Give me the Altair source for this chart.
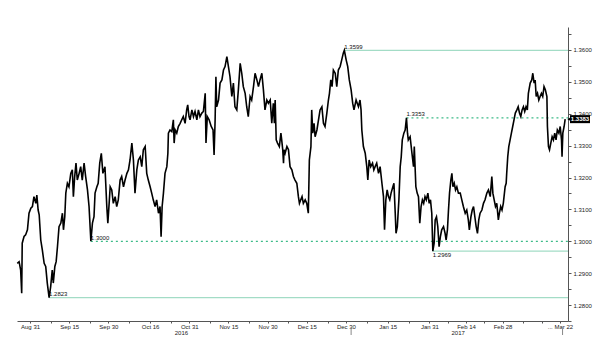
import json
import altair as alt
import pandas as pd

# ---- price series (USD/CAD style) ----
# day offsets from 2016-08-31, and the rate at that moment
day = [
    -4.9, -4.2, -3.6, -3.2, -3.0, -2.3, -1.7, -1.0, -0.4, 0.3, 0.9, 1.5, 2.2, 2.6, 3.1, 3.5, 4.1, 4.7, 5.4, 6.0,
    6.6, 7.3, 7.9, 8.5, 8.9, 9.5, 10.0, 10.5, 11.1, 11.8, 12.4, 12.8, 13.3, 13.7, 14.3, 14.9, 15.6, 16.2, 16.6, 17.1,
    17.6, 18.1, 18.8, 19.4, 20.0, 20.7, 21.3, 22.0, 22.6, 23.3, 23.9, 24.5, 24.9, 25.6, 26.1, 26.7, 27.3, 27.9, 28.7, 29.4,
    29.8, 30.3, 30.7, 31.3, 31.9, 32.6, 33.2, 33.8, 34.5, 35.1, 35.8, 36.4, 37.1, 37.7, 38.3, 39.0, 39.6, 40.2, 40.9, 41.5,
    42.2, 42.8, 43.4, 44.1, 44.7, 45.3, 46.0, 46.6, 47.2, 47.9, 48.5, 49.2, 49.8, 50.2, 50.6, 51.1, 51.7, 52.4, 52.8, 53.0,
    53.6, 54.3, 54.9, 55.2, 55.6, 56.2, 56.8, 57.5, 58.1, 58.7, 59.4, 60.0, 60.4, 60.9, 61.3, 62.0, 62.6, 63.2, 63.9, 64.5,
    65.1, 65.8, 66.4, 67.1, 67.4, 67.9, 68.6, 69.4, 70.1, 70.5, 70.9, 71.2, 71.5, 72.2, 72.8, 73.5, 74.1, 74.7, 75.4, 76.0,
    76.6, 77.3, 77.9, 78.5, 79.2, 79.8, 80.5, 81.1, 81.7, 82.4, 83.0, 83.6, 84.3, 84.9, 85.6, 86.2, 86.9, 87.5, 88.1, 88.8,
    89.4, 90.0, 90.7, 91.3, 92.0, 92.6, 93.2, 93.6, 93.9, 94.3, 94.8, 95.5, 96.1, 96.4, 96.8, 97.1, 97.3, 97.7, 98.4, 99.0,
    99.6, 100.3, 100.9, 101.5, 102.2, 102.8, 103.2, 103.7, 104.2, 104.7, 105.4, 106.0, 106.6, 107.0, 107.6, 107.9, 108.3, 108.8, 109.2, 109.9,
    110.5, 111.1, 111.8, 112.4, 113.0, 113.7, 114.3, 114.7, 115.2, 115.7, 116.2, 116.9, 117.5, 118.1, 118.8, 119.4, 120.0, 120.4, 121.1, 121.7,
    122.3, 123.0, 123.6, 124.1, 124.9, 125.8, 126.4, 126.8, 127.1, 127.7, 128.4, 129.0, 129.4, 129.9, 130.5, 131.2, 131.7, 132.2, 132.8, 133.5,
    134.1, 134.8, 135.4, 135.8, 136.3, 136.8, 137.3, 137.8, 138.3, 139.0, 139.4, 139.9, 140.2, 140.7, 141.3, 141.8, 142.2, 142.6, 143.2, 143.7,
    144.2, 144.6, 144.9, 145.6, 146.3, 146.9, 147.2, 147.8, 148.3, 148.8, 149.3, 149.8, 150.3, 150.8, 151.3, 151.8, 152.4, 152.9, 153.4, 153.9,
    154.3, 154.8, 155.2, 155.7, 156.2, 156.7, 157.2, 157.7, 158.4, 159.0, 159.4, 159.9, 160.3, 160.7, 161.2, 161.6, 162.0, 162.5, 163.0, 163.5,
    164.1, 164.8, 165.4, 166.0, 166.7, 167.3, 167.9, 168.3, 168.9, 169.4, 169.9, 170.4, 170.9, 171.4, 171.9, 172.4, 173.1, 173.7, 174.3, 175.0,
    175.6, 176.3, 176.9, 177.3, 177.8, 178.3, 178.8, 179.4, 179.8, 180.3, 180.8, 181.3, 182.0, 182.4, 182.6, 183.0, 183.4, 183.9, 184.4, 184.9,
    185.4, 185.9, 186.5, 187.0, 187.5, 188.0, 188.5, 189.0, 189.5, 190.0, 190.5, 190.9, 191.6, 192.2, 192.6, 193.1, 193.5, 193.9, 194.4, 194.9,
    195.4, 195.9, 196.4, 196.9, 197.4, 198.0, 198.2, 198.6, 199.0, 199.5, 200.0, 200.5, 201.0, 201.5, 202.0, 202.6, 203.1, 203.6, 203.8, 204.1,
    204.6, 205.0,
]
rate = [
    1.2931, 1.2936, 1.2910, 1.2837, 1.2994, 1.3015, 1.3020, 1.3036, 1.3088, 1.3104, 1.3109, 1.3140, 1.3119, 1.3145, 1.3098, 1.3083, 1.3004, 1.2973, 1.2931, 1.2921,
    1.2869, 1.2823, 1.2858, 1.2910, 1.2869, 1.2921, 1.2936, 1.2983, 1.3046, 1.3057, 1.3088, 1.3036, 1.3077, 1.3151, 1.3182, 1.3171, 1.3213, 1.3224, 1.3140, 1.3203,
    1.3245, 1.3192, 1.3213, 1.3234, 1.3192, 1.3245, 1.3203, 1.3161, 1.3109, 1.3000, 1.3057, 1.3077, 1.3151, 1.3171, 1.3182, 1.3245, 1.3276, 1.3213, 1.3234, 1.3109,
    1.3057, 1.3119, 1.3171, 1.3161, 1.3119, 1.3140, 1.3109, 1.3130, 1.3192, 1.3203, 1.3171, 1.3192, 1.3213, 1.3224, 1.3255, 1.3308, 1.3255, 1.3151, 1.3224, 1.3255,
    1.3265, 1.3234, 1.3287, 1.3297, 1.3213, 1.3192, 1.3171, 1.3151, 1.3130, 1.3109, 1.3130, 1.3088, 1.3109, 1.3014, 1.3109, 1.3151, 1.3213, 1.3234, 1.3276, 1.3339,
    1.3349, 1.3344, 1.3381, 1.3308, 1.3349, 1.3339, 1.3360, 1.3370, 1.3381, 1.3391, 1.3370, 1.3412, 1.3428, 1.3391, 1.3381, 1.3412, 1.3391, 1.3407, 1.3381, 1.3412,
    1.3391, 1.3402, 1.3407, 1.3464, 1.3308, 1.3391, 1.3381, 1.3360, 1.3349, 1.3271, 1.3381, 1.3516, 1.3422, 1.3443, 1.3496, 1.3506, 1.3537, 1.3548, 1.3579, 1.3548,
    1.3516, 1.3454, 1.3496, 1.3422, 1.3412, 1.3475, 1.3558, 1.3527, 1.3485, 1.3464, 1.3422, 1.3391, 1.3454, 1.3443, 1.3485, 1.3527, 1.3506, 1.3485, 1.3506, 1.3527,
    1.3475, 1.3412, 1.3443, 1.3433, 1.3443, 1.3370, 1.3433, 1.3370, 1.3443, 1.3318, 1.3308, 1.3297, 1.3339, 1.3318, 1.3287, 1.3245, 1.3287, 1.3276, 1.3297, 1.3287,
    1.3234, 1.3224, 1.3203, 1.3192, 1.3182, 1.3140, 1.3119, 1.3130, 1.3140, 1.3119, 1.3130, 1.3119, 1.3088, 1.3255, 1.3297, 1.3412, 1.3339, 1.3370, 1.3328, 1.3349,
    1.3381, 1.3412, 1.3422, 1.3370, 1.3360, 1.3402, 1.3443, 1.3464, 1.3506, 1.3485, 1.3537, 1.3527, 1.3485, 1.3537, 1.3548, 1.3569, 1.3590, 1.3599, 1.3569, 1.3548,
    1.3506, 1.3475, 1.3433, 1.3412, 1.3443, 1.3422, 1.3443, 1.3412, 1.3349, 1.3297, 1.3276, 1.3234, 1.3192, 1.3255, 1.3234, 1.3245, 1.3224, 1.3234, 1.3245, 1.3213,
    1.3234, 1.3182, 1.3140, 1.3036, 1.3130, 1.3161, 1.3140, 1.3130, 1.3151, 1.3171, 1.3182, 1.3088, 1.3025, 1.3046, 1.3130, 1.3234, 1.3265, 1.3318, 1.3339, 1.3349,
    1.3387, 1.3339, 1.3318, 1.3328, 1.3276, 1.3234, 1.3297, 1.3171, 1.3151, 1.3140, 1.3057, 1.3109, 1.3130, 1.3119, 1.3140, 1.3130, 1.3151, 1.3119, 1.3130, 1.3088,
    1.2969, 1.2994, 1.3067, 1.3077, 1.3046, 1.2983, 1.3015, 1.3036, 1.3046, 1.3025, 1.3004, 1.3036, 1.3098, 1.3151, 1.3192, 1.3213, 1.3171, 1.3182, 1.3161, 1.3171,
    1.3151, 1.3151, 1.3130, 1.3109, 1.3088, 1.3098, 1.3067, 1.3036, 1.3077, 1.3098, 1.3109, 1.3077, 1.3046, 1.3025, 1.3067, 1.3088, 1.3098, 1.3119, 1.3130, 1.3151,
    1.3161, 1.3140, 1.3203, 1.3151, 1.3130, 1.3109, 1.3119, 1.3067, 1.3088, 1.3109, 1.3098, 1.3119, 1.3171, 1.3182, 1.3213, 1.3265, 1.3297, 1.3318, 1.3339, 1.3360,
    1.3381, 1.3402, 1.3412, 1.3422, 1.3402, 1.3391, 1.3412, 1.3422, 1.3407, 1.3422, 1.3412, 1.3464, 1.3496, 1.3506, 1.3527, 1.3496, 1.3506, 1.3454, 1.3464, 1.3443,
    1.3454, 1.3464, 1.3454, 1.3485, 1.3475, 1.3454, 1.3360, 1.3297, 1.3287, 1.3308, 1.3328, 1.3318, 1.3339, 1.3318, 1.3349, 1.3339, 1.3360, 1.3318, 1.3265, 1.3339,
    1.3360, 1.3383,
]
assert len(day) == len(rate), (len(day), len(rate))

# ---- annotated levels ----
ref_level = [1.3599, 1.3387, 1.3000, 1.2969, 1.2823]
ref_start_day = [120.4, 144.2, 23.3, 154.3, 7.3]
ref_style = ["solid", "dashed", "dashed", "solid", "solid"]
ref_text = ["1.3599", "1.3353", "1.3000", "1.2969", "1.2823"]
ref_text_pos = ["above", "above", "above", "below", "above"]

# ---- axis ticks ----
x_label_dates = ["2016-08-31", "2016-09-15", "2016-09-30", "2016-10-16", "2016-10-31", "2016-11-15",
                 "2016-11-30", "2016-12-15", "2016-12-30", "2017-01-15", "2017-01-31", "2017-02-14",
                 "2017-02-28", "2017-03-22"]
x_minor_dates = ["2016-09-08", "2016-09-23", "2016-10-08", "2016-10-24", "2016-11-08", "2016-11-23",
                 "2016-12-08", "2016-12-23", "2017-01-07", "2017-01-23", "2017-02-07", "2017-02-21",
                 "2017-03-08", "2017-03-15"]
y_tick_values = [1.275, 1.28, 1.285, 1.29, 1.295, 1.30, 1.305, 1.31, 1.315, 1.32, 1.325,
                 1.33, 1.335, 1.34, 1.345, 1.35, 1.355, 1.36, 1.365]
year_labels = ["2016", "2017"]
year_mid_dates = ["2016-10-28", "2017-02-11"]
year_break_dates = ["2017-01-01", "2017-03-23"]

BASE = pd.Timestamp("2016-08-31")
END = "2017-03-25T02:00:00"

W, H = 551, 294
FONT = "Liberation Sans"


def dt(s):
    y, m, d = (int(p) for p in s.split("-"))
    return alt.DateTime(year=y, month=m, date=d)


series = pd.DataFrame({
    "t": (BASE + pd.to_timedelta(day, unit="D")).strftime("%Y-%m-%dT%H:%M:%S"),
    "rate": rate,
})
refs = pd.DataFrame({
    "level": ref_level,
    "start": (BASE + pd.to_timedelta(ref_start_day, unit="D")).strftime("%Y-%m-%dT%H:%M:%S"),
    "end": END,
    "style": ref_style,
    "text": ref_text,
    "pos": ref_text_pos,
})
years = pd.DataFrame({"t": [d + "T00:00:00" for d in year_mid_dates], "label": year_labels})
breaks = pd.DataFrame({"t": [d + "T00:00:00" for d in year_break_dates]})
last = pd.DataFrame({"rate": [rate[-1]], "text": [f"{rate[-1]:.4f}"]})

x_scale = alt.Scale(domain=[alt.DateTime(year=2016, month=8, date=26),
                            alt.DateTime(year=2017, month=3, date=25, hours=2)])
y_scale = alt.Scale(domain=[1.275, 1.3672], nice=False, zero=False)

label_expr = (
    "indexof(" + json.dumps(x_label_dates) + ", timeFormat(datum.value, '%Y-%m-%d')) >= 0 ? "
    "((month(datum.value) == 2 && date(datum.value) == 22) ? '... ' : '') + timeFormat(datum.value, '%b %d') : ''"
)
x_axis = alt.Axis(
    values=[dt(s) for s in sorted(x_label_dates + x_minor_dates)],
    labelExpr=label_expr, title=None, grid=False,
    domainColor="#555555", tickColor="#555555", tickSize=2,
    labelFontSize=6, labelFont=FONT, labelColor="#222222", labelPadding=0,
    labelOverlap=False, labelFlush=False, labelBound=False,
)
y_axis = alt.Axis(
    orient="right", values=y_tick_values,
    labelExpr="(round(datum.value * 1000) % 10 == 0) ? format(datum.value, '.4f') : ''",
    title=None, grid=False,
    domainColor="#555555", tickColor="#555555", tickSize=3,
    labelFontSize=6, labelFont=FONT, labelColor="#222222", labelPadding=2,
    labelOverlap=False, labelFlush=False, labelBound=False,
)


def X(field):
    return alt.X(field, type="temporal", scale=x_scale, axis=x_axis)


def Y(field):
    return alt.Y(field, type="quantitative", scale=y_scale, axis=y_axis)


ref_rules = alt.Chart(refs).mark_rule(strokeWidth=1.2).encode(
    x=X("start"), x2="end:T", y=Y("level"),
    color=alt.Color("style:N", scale=alt.Scale(domain=["solid", "dashed"], range=["#a3dcc6", "#3dbb88"]), legend=None),
    strokeDash=alt.StrokeDash("style:N", scale=alt.Scale(domain=["solid", "dashed"], range=[[1, 0], [2, 3]]), legend=None),
)
ref_above = alt.Chart(refs).transform_filter("datum.pos == 'above'").mark_text(
    align="left", baseline="bottom", dy=-0.5, fontSize=6, font=FONT, color="#111111"
).encode(x=X("start"), y=Y("level"), text="text:N")
ref_below = alt.Chart(refs).transform_filter("datum.pos == 'below'").mark_text(
    align="left", baseline="top", dy=1, fontSize=6, font=FONT, color="#111111"
).encode(x=X("start"), y=Y("level"), text="text:N")

line = alt.Chart(series).mark_line(color="#000000", strokeWidth=1.6, strokeJoin="miter").encode(
    x=X("t"), y=Y("rate")
)

box = alt.Chart(last).mark_rule(color="#000000", strokeWidth=8, strokeCap="butt").encode(
    x=alt.value(W + 2), x2=alt.value(W + 22), y=Y("rate")
)
arrow = alt.Chart(last).mark_point(shape="triangle-left", filled=True, color="#000000", size=14, opacity=1).encode(
    x=alt.value(W + 1), y=Y("rate")
)
box_text = alt.Chart(last).mark_text(fontSize=6, font=FONT, color="#ffffff", fontWeight="bold").encode(
    x=alt.value(W + 12), y=Y("rate"), text="text:N"
)

year_text = alt.Chart(years).mark_text(fontSize=6, font=FONT, color="#222222", baseline="middle").encode(
    x=X("t"), y=alt.value(H + 12), text="label:N"
)
year_breaks = alt.Chart(breaks).mark_rule(color="#888888", strokeWidth=1).encode(
    x=X("t"), y=alt.value(H + 8), y2=alt.value(H + 14)
)

chart = alt.layer(
    ref_rules, ref_above, ref_below, line, box, arrow, box_text, year_text, year_breaks
).properties(
    width=W, height=H,
    autosize=alt.AutoSizeParams(type="none"),
    padding={"left": 17, "top": 27, "right": 32, "bottom": 33},
    background="#ffffff",
).configure_view(stroke=None)

chart.save("out.html", embed_options={"renderer": "svg", "actions": False})
